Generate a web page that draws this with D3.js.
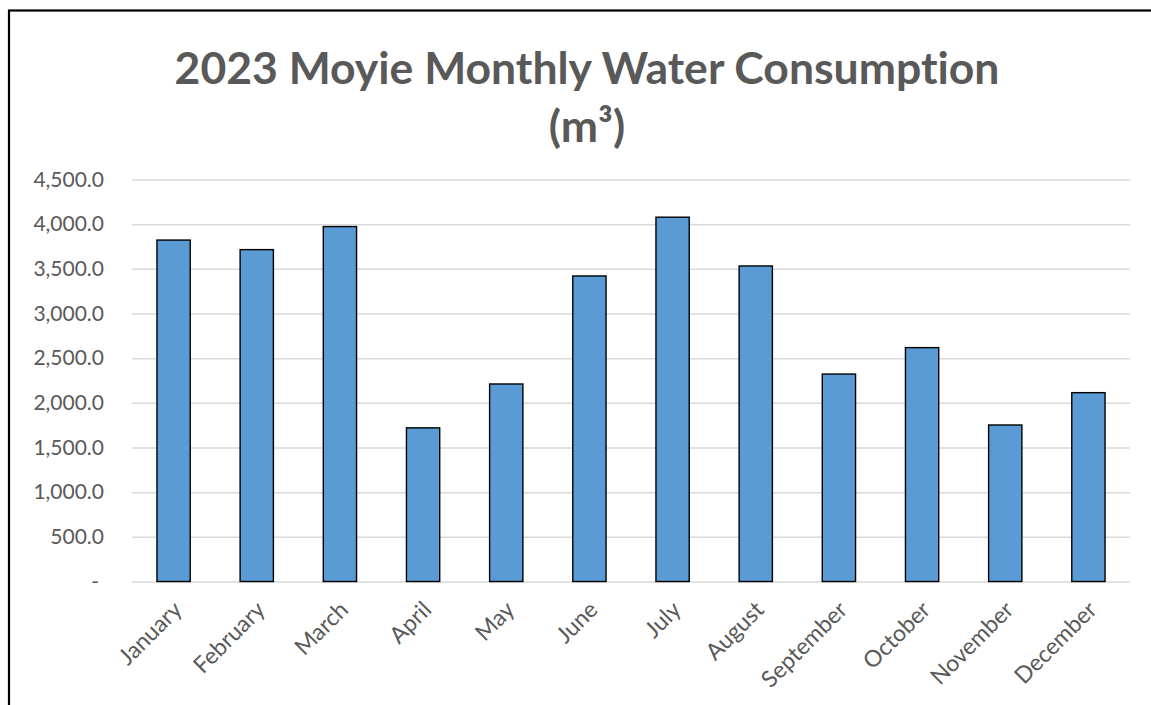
<!DOCTYPE html>
<html>
<head>
  <meta charset="utf-8">
  <title>2023 Moyie Monthly Water Consumption</title>
  <script src="https://cdnjs.cloudflare.com/ajax/libs/d3/7.8.5/d3.min.js"></script>
  <style>
    body { margin: 0; background: #fff; }
    text { font-family: Lato, "Open Sans", sans-serif; fill: #595959;
           font-variant-ligatures: none; font-feature-settings: "liga" 0, "dlig" 0; }
  </style>
</head>
<body>
<script>
var width = 1151,
    height = 705;

// datos
var months = ["January", "February", "March", "April", "May", "June",
              "July", "August", "September", "October", "November", "December"];
var consumption = [3822, 3715, 3973, 1720, 2211, 3420, 4078, 3532, 2322, 2618, 1752, 2114];
var yTicks = [0, 500, 1000, 1500, 2000, 2500, 3000, 3500, 4000, 4500];
var titleLines = ["2023 Moyie Monthly Water Consumption", "(m\u00B3)"];

var margin = {top: 179.5, right: 21, bottom: 123.5, left: 132};
var w = width - margin.left - margin.right,
    h = height - margin.top - margin.bottom;

var svg = d3.select("body").append("svg")
  .attr("width", width)
  .attr("height", height);

// marco del grafico
svg.append("rect")
  .attr("x", 9).attr("y", 10.5)
  .attr("width", width + 20).attr("height", height + 20)
  .attr("fill", "#fff")
  .attr("stroke", "#000")
  .attr("stroke-width", 2.2);

var title = svg.append("text")
  .attr("text-anchor", "middle")
  .attr("font-weight", "bold")
  .attr("font-size", 44.5);
title.append("tspan").attr("x", 587).attr("y", 84).text(titleLines[0]);
title.append("tspan").attr("x", 587).attr("y", 142).text(titleLines[1]);

var g = svg.append("g").attr("transform", "translate(" + margin.left + "," + margin.top + ")");

var x = d3.scaleBand().domain(months).range([0, w]).paddingInner(0.6).paddingOuter(0.3);
var y = d3.scaleLinear().domain([0, 4500]).range([h, 0]);

// lineas de la grilla
g.append("g")
  .attr("class", "grid")
  .call(d3.axisLeft(y).tickValues(yTicks).tickSize(-w).tickFormat(""))
  .call(function(s) {
    s.select(".domain").remove();
    s.selectAll("line").attr("stroke", "#d9d9d9").attr("stroke-width", 1.5);
  });

// eje y
var fmt = d3.format(",.1f");
g.append("g")
  .call(d3.axisLeft(y).tickValues(yTicks).tickSize(0).tickPadding(28)
    .tickFormat(function(d) { return d === 0 ? "-" : fmt(d); }))
  .call(function(s) {
    s.select(".domain").remove();
    s.selectAll("text")
      .attr("font-size", 21)
      .attr("font-family", "Lato, sans-serif")
      .attr("fill", "#595959")
      .attr("dx", function(d) { return d === 0 ? -5 : 0; });
  });

// barras
g.selectAll("rect.bar")
  .data(consumption)
  .enter().append("rect")
  .attr("class", "bar")
  .attr("x", function(d, i) { return x(months[i]); })
  .attr("y", function(d) { return y(d); })
  .attr("width", x.bandwidth())
  .attr("height", function(d) { return h - y(d); })
  .attr("fill", "#5b9bd5")
  .attr("stroke", "#000")
  .attr("stroke-width", 1.4);

// eje x
g.append("g")
  .attr("transform", "translate(0," + h + ")")
  .call(d3.axisBottom(x).tickSize(0).tickPadding(0))
  .call(function(s) {
    s.select(".domain").remove();
    s.selectAll("text")
      .attr("font-size", 23)
      .attr("font-family", "Lato, sans-serif")
      .attr("fill", "#595959")
      .attr("text-anchor", "end")
      .attr("transform", "translate(4,24) rotate(-45)")
      .attr("dy", "0.35em");
  });
</script>
</body>
</html>
